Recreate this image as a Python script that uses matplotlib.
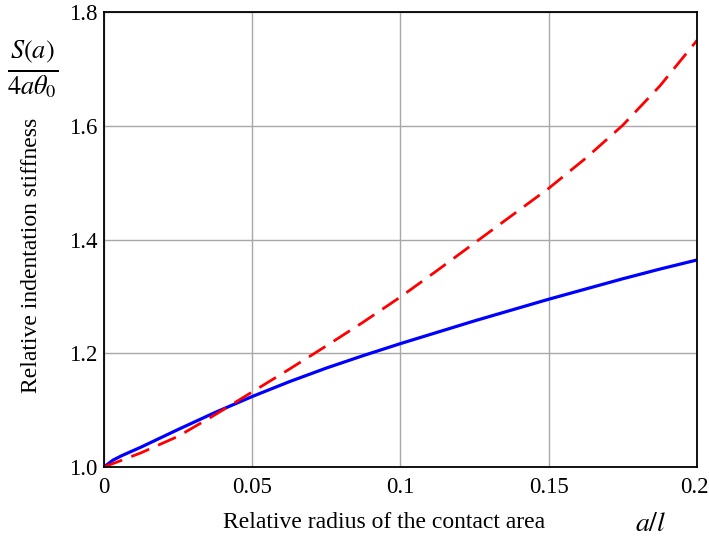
import numpy as np
import matplotlib
matplotlib.use("Agg")
import matplotlib.pyplot as plt
import matplotlib.transforms as mtransforms

# values
x_blue = [0.0, 0.003, 0.006, 0.0125, 0.025, 0.0375, 0.05, 0.0625, 0.075, 0.0875,
          0.1, 0.1125, 0.125, 0.1375, 0.15, 0.1625, 0.175, 0.1875, 0.2]
y_blue = [1.000, 1.012, 1.020, 1.035, 1.066, 1.096, 1.124, 1.150, 1.174, 1.196,
          1.217, 1.237, 1.257, 1.276, 1.295, 1.313, 1.331, 1.348, 1.364]

x_red = [0.0, 0.0125, 0.025, 0.0375, 0.05, 0.0625, 0.075, 0.0875, 0.1, 0.1125,
         0.125, 0.1375, 0.15, 0.1625, 0.175, 0.1875, 0.2]
y_red = [1.000, 1.025, 1.054, 1.092, 1.132, 1.172, 1.213, 1.255, 1.299, 1.346,
         1.394, 1.442, 1.490, 1.543, 1.601, 1.670, 1.750]

x_ticks = [0, 0.05, 0.1, 0.15, 0.2]
x_ticklabels = ["0", "0.05", "0.1", "0.15", "0.2"]
y_ticks = [1.0, 1.2, 1.4, 1.6, 1.8]
y_ticklabels = ["1.0", "1.2", "1.4", "1.6", "1.8"]

plt.rcParams["font.family"] = ["Liberation Serif", "DejaVu Serif"]
plt.rcParams["mathtext.fontset"] = "stix"

fig = plt.figure(figsize=(7.09, 5.36), dpi=100)
ax = fig.add_axes([0.1467, 0.1287, 0.8363, 0.8489])

ax.plot(x_blue, y_blue, color="#0000ff", lw=2.3, solid_capstyle="butt")
ax.plot(x_red, y_red, color="#ff0000", lw=2.0, dashes=(7, 3.5))

ax.set_xlim(0, 0.2)
ax.set_ylim(1.0, 1.8)
ax.set_xticks(x_ticks)
ax.set_xticklabels(x_ticklabels)
ax.set_yticks(y_ticks)
ax.set_yticklabels(y_ticklabels)
ax.tick_params(length=0, labelsize=16.5)
ax.tick_params(axis="x", pad=7)
ax.tick_params(axis="y", pad=5)
ax.grid(True, color="#a8a8a8", lw=1.0)
ax.set_axisbelow(True)
for s in ax.spines.values():
    s.set_linewidth(1.3)
    s.set_color("black")

# last x tick label sits right at the figure edge, nudge it in a bit
last = ax.get_xticklabels()[-1]
last.set_transform(last.get_transform() +
                   mtransforms.ScaledTranslation(-3 / 100, 0, fig.dpi_scale_trans))

fig.text(0.045, 0.524, "Relative indentation stiffness", rotation=90,
         ha="center", va="center", fontsize=17)
fig.text(0.046, 0.871, r"$\frac{S(a)}{4a\theta_0}$", ha="center", va="center",
         fontsize=27)
fig.text(0.542, 0.026, "Relative radius of the contact area", ha="center",
         va="center", fontsize=17)
fig.text(0.918, 0.022, r"$a/l$", ha="center", va="center", fontsize=20)

fig.savefig("out.png", dpi=100)
